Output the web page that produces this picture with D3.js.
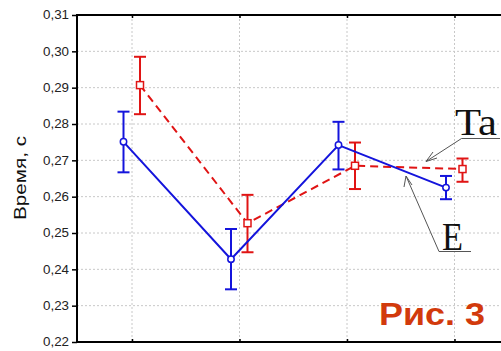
<!DOCTYPE html>
<html><head><meta charset="utf-8">
<script src="https://cdn.jsdelivr.net/npm/d3@7"></script>
<style>body{margin:0;background:#fff}svg{display:block}</style>
</head><body>
<svg id="c" width="501" height="351"></svg>
<script>
const categories = ["1","2","3","4"];
const eMean = [0.2751, 0.2428, 0.2742, 0.2625];
const eLow  = [0.2667, 0.2345, 0.2675, 0.2593];
const eHigh = [0.2834, 0.2511, 0.2806, 0.2657];
const taMean = [0.2907, 0.2527, 0.2685, 0.2676];
const taLow  = [0.2827, 0.2447, 0.2621, 0.2641];
const taHigh = [0.2985, 0.2605, 0.2749, 0.2705];
const yTicks = [0.22,0.23,0.24,0.25,0.26,0.27,0.28,0.29,0.30,0.31];

(function(){
const svg = d3.select("#c");
const pL = 77, pT = 15, pB = 342, pR = 501;
const x = d3.scalePoint().domain(categories).range([132, 454.5]);
const y = d3.scaleLinear().domain([0.22, 0.31]).range([pB, pT]);
const fmt = v => d3.format(".2f")(v).replace(".", ",");

// grid
const g = svg.append("g");
g.selectAll("line.h").data(yTicks.slice(1, -1)).join("line")
  .attr("x1", pL).attr("x2", pR).attr("y1", d => y(d)).attr("y2", d => y(d))
  .attr("stroke", "#c8c8c8").attr("stroke-width", 1).attr("stroke-dasharray", "2,2");
g.selectAll("line.v").data(categories).join("line")
  .attr("x1", d => x(d)).attr("x2", d => x(d)).attr("y1", pT).attr("y2", pB)
  .attr("stroke", "#c8c8c8").attr("stroke-width", 1).attr("stroke-dasharray", "2,2");

// axes
const ya = svg.append("g").attr("transform", `translate(${pL},0)`)
  .call(d3.axisLeft(y).tickValues(yTicks).tickFormat(fmt).tickSize(5).tickPadding(3));
ya.select(".domain").remove();
ya.selectAll(".tick line").attr("stroke", "#000").attr("stroke-width", 1.5);
ya.selectAll(".tick text").attr("font-family", "Arial, 'Liberation Sans', sans-serif")
  .attr("font-size", 12).attr("fill", "#222")
  .attr("textLength", 26).attr("lengthAdjust", "spacingAndGlyphs");
const xb = svg.append("g").attr("transform", `translate(0,${pB})`)
  .call(d3.axisBottom(x).tickSize(-3).tickFormat(""));
xb.select(".domain").remove();
xb.selectAll(".tick line").attr("stroke", "#000").attr("stroke-width", 1.5);
const xt = svg.append("g").attr("transform", `translate(0,${pT})`)
  .call(d3.axisTop(x).tickSize(-3).tickFormat(""));
xt.select(".domain").remove();
xt.selectAll(".tick line").attr("stroke", "#000").attr("stroke-width", 1.5);

svg.append("line").attr("x1", pL).attr("x2", pL).attr("y1", pT - 1).attr("y2", pB + 1)
  .attr("stroke", "#000").attr("stroke-width", 2);
svg.append("line").attr("x1", pL).attr("x2", pR).attr("y1", pB).attr("y2", pB)
  .attr("stroke", "#000").attr("stroke-width", 2);
svg.append("line").attr("x1", pL).attr("x2", pR).attr("y1", pT).attr("y2", pT)
  .attr("stroke", "#000").attr("stroke-width", 2);

// y label
svg.append("text").attr("transform", "translate(26,178) rotate(-90)")
  .attr("text-anchor", "middle").attr("font-family", "Arial, 'Liberation Sans', sans-serif")
  .attr("font-size", 17).attr("fill", "#111")
  .attr("textLength", 84).attr("lengthAdjust", "spacingAndGlyphs").text("Время, с");

function series(mean, lo, hi, off, color, dash, marker) {
  const gg = svg.append("g");
  const px = i => x(categories[i]) + off;
  gg.append("path").datum(mean)
    .attr("d", d3.line().x((d, i) => px(i)).y(d => y(d)))
    .attr("fill", "none").attr("stroke", color).attr("stroke-width", 2)
    .attr("stroke-dasharray", dash);
  mean.forEach((m, i) => {
    gg.append("line").attr("x1", px(i)).attr("x2", px(i)).attr("y1", y(lo[i])).attr("y2", y(hi[i]))
      .attr("stroke", color).attr("stroke-width", 2);
    [lo[i], hi[i]].forEach(v => gg.append("line").attr("x1", px(i) - 6).attr("x2", px(i) + 6)
      .attr("y1", y(v)).attr("y2", y(v)).attr("stroke", color).attr("stroke-width", 2));
    if (marker === "circle") {
      gg.append("circle").attr("cx", px(i)).attr("cy", y(m)).attr("r", 3.2)
        .attr("fill", "#fff").attr("stroke", color).attr("stroke-width", 1.5);
    } else {
      gg.append("rect").attr("x", px(i) - 3.5).attr("y", y(m) - 3.5).attr("width", 7).attr("height", 7)
        .attr("fill", "#fff").attr("stroke", color).attr("stroke-width", 1.5);
    }
  });
}
series(taMean, taLow, taHigh, 8, "#e01414", "8,5", "square");
series(eMean, eLow, eHigh, -8.5, "#1414dc", null, "circle");

// annotations
const ann = svg.append("g").attr("stroke", "#555").attr("stroke-width", 1).attr("fill", "none");
ann.append("path").attr("d", "M500,138.5 L461.5,138.5 L426,161.5");
ann.append("path").attr("d", "M433,152 L426,161.5 L437,158");
ann.append("path").attr("d", "M471,251.5 L439,251.5 L406,176");
ann.append("path").attr("d", "M404,187 L406,176 L412,185");
svg.append("text").attr("x", 455).attr("y", 135).attr("font-family", "'Liberation Serif', 'Times New Roman', serif")
  .attr("font-size", 38).attr("fill", "#111")
  .attr("textLength", 42).attr("lengthAdjust", "spacingAndGlyphs").text("Ta");
svg.append("text").attr("x", 442).attr("y", 250).attr("font-family", "'Liberation Serif', 'Times New Roman', serif")
  .attr("font-size", 40).attr("fill", "#111")
  .attr("textLength", 21).attr("lengthAdjust", "spacingAndGlyphs").text("E");

svg.append("text").attr("x", 379).attr("y", 325).attr("font-family", "Arial, 'Liberation Sans', sans-serif")
  .attr("font-weight", "bold").attr("font-size", 31).attr("fill", "#d23a0c")
  .attr("textLength", 106).attr("lengthAdjust", "spacingAndGlyphs").text("Рис. 3");
})();
</script>
</body></html>
